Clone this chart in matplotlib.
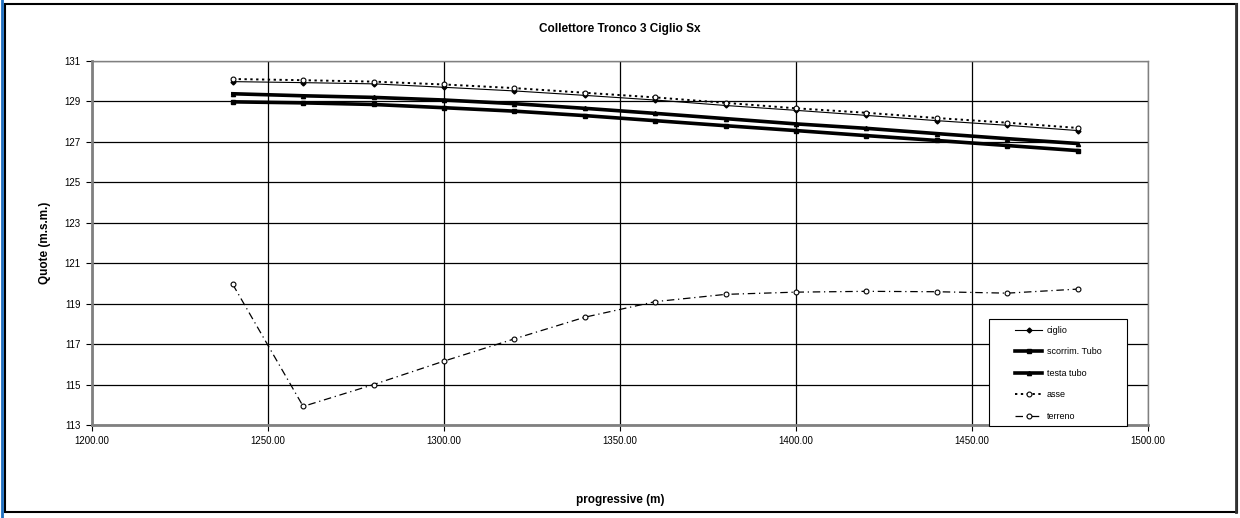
import matplotlib
matplotlib.use("Agg")
import matplotlib.pyplot as plt
from matplotlib.patches import Rectangle
from matplotlib.lines import Line2D

plt.rcParams['font.family'] = ['Liberation Sans', 'DejaVu Sans']

# progressive (m)
progressive = [1240, 1260, 1280, 1300, 1320, 1340, 1360, 1380, 1400, 1420, 1440, 1460, 1480]

ciglio = [129.98, 129.93, 129.87, 129.70, 129.52, 129.30, 129.07, 128.80, 128.56, 128.31, 128.05, 127.82, 127.56]
scorrim_tubo = [128.98, 128.93, 128.85, 128.69, 128.52, 128.30, 128.05, 127.80, 127.56, 127.31, 127.07, 126.82, 126.57]
testa_tubo = [129.38, 129.28, 129.20, 129.07, 128.89, 128.66, 128.41, 128.15, 127.89, 127.67, 127.41, 127.16, 126.92]
asse = [130.11, 130.05, 129.98, 129.84, 129.66, 129.43, 129.20, 128.93, 128.66, 128.44, 128.18, 127.95, 127.69]
terreno = [119.95, 113.92, 115.00, 116.16, 117.26, 118.33, 119.10, 119.46, 119.57, 119.61, 119.59, 119.52, 119.72]

x_ticks = [1200, 1250, 1300, 1350, 1400, 1450, 1500]
y_ticks = [113, 115, 117, 119, 121, 123, 125, 127, 129, 131]

W, H = 1240, 518
L, R, T, B = 92, 1148, 61, 425
fig = plt.figure(figsize=(W / 100, H / 100), dpi=100)
ax = fig.add_axes([L / W, 1 - B / H, (R - L) / W, (B - T) / H])

ax.plot(progressive, ciglio, color='black', lw=0.8, marker='D', ms=2.5,
        mfc='black', label='ciglio', zorder=5)
ax.plot(progressive, scorrim_tubo, color='black', lw=2.6, marker='s', ms=3,
        mfc='black', label='scorrim. Tubo', zorder=4)
ax.plot(progressive, testa_tubo, color='black', lw=2.6, marker='^', ms=3,
        mfc='black', label='testa tubo', zorder=4)
ax.plot(progressive, asse, color='black', lw=1.4, ls=(0, (1.2, 1.8)), marker='o',
        ms=3.5, mfc='white', mew=0.8, label='asse', zorder=6)
ax.plot(progressive, terreno, color='black', lw=0.9, ls=(0, (6, 3, 1, 3)), marker='o',
        ms=3.5, mfc='white', mew=0.8, label='terreno', zorder=6)

ax.set_xlim(1200, 1500)
ax.set_ylim(113, 131)
ax.set_xticks(x_ticks)
ax.set_xticklabels([f"{v:.2f}" for v in x_ticks])
ax.set_yticks(y_ticks)
ax.grid(True, color='black', lw=0.9)
ax.set_axisbelow(True)

for s in ['top', 'right']:
    ax.spines[s].set_color('#808080')
    ax.spines[s].set_linewidth(1.0)
for s in ['left', 'bottom']:
    ax.spines[s].set_color('#808080')
    ax.spines[s].set_linewidth(2.0)

ax.tick_params(axis='both', labelsize=7, colors='black', length=4, width=0.8,
               direction='out', pad=4)

ax.set_title('Collettore Tronco 3 Ciglio Sx', fontsize=8.5, fontweight='bold', pad=21)
ax.set_ylabel('Quote (m.s.m.)', fontsize=8.5, fontweight='bold', labelpad=10)
fig.text(620 / W, 1 - 500 / H, 'progressive (m)', fontsize=8.5, fontweight='bold',
         ha='center', va='center')

# legend box drawn separately, entries placed inside
def px_to_ax(x, y):
    return (x - L) / (R - L), (B - y) / (B - T)

bx0, by0 = px_to_ax(989, 426)
bx1, by1 = px_to_ax(1127, 319)
ax.add_patch(Rectangle((bx0, by0), bx1 - bx0, by1 - by0, transform=ax.transAxes,
                       facecolor='white', edgecolor='black', lw=0.8, zorder=8,
                       clip_on=False))
lx, ly = px_to_ax(1015, 326)
leg = ax.legend(loc='upper left', bbox_to_anchor=(lx, ly), fontsize=6.5,
                frameon=False, handlelength=3.0, labelspacing=1.38,
                borderpad=0, handletextpad=0.5, borderaxespad=0)
leg.set_zorder(9)

# outer chart frame
fig.patches.append(Rectangle((5 / W, 1 - 512 / H), 1232 / W, 508 / H,
                             transform=fig.transFigure, fill=False,
                             edgecolor='black', lw=1.5))
fig.lines.append(Line2D([1.5 / W, 1.5 / W], [0, 1], transform=fig.transFigure,
                        color='#1f6fc0', lw=2))
fig.lines.append(Line2D([1236 / W, 1236 / W], [1 - 512 / H, 1 - 4 / H],
                        transform=fig.transFigure, color='#333333', lw=2))

fig.savefig('out.png', dpi=100)
